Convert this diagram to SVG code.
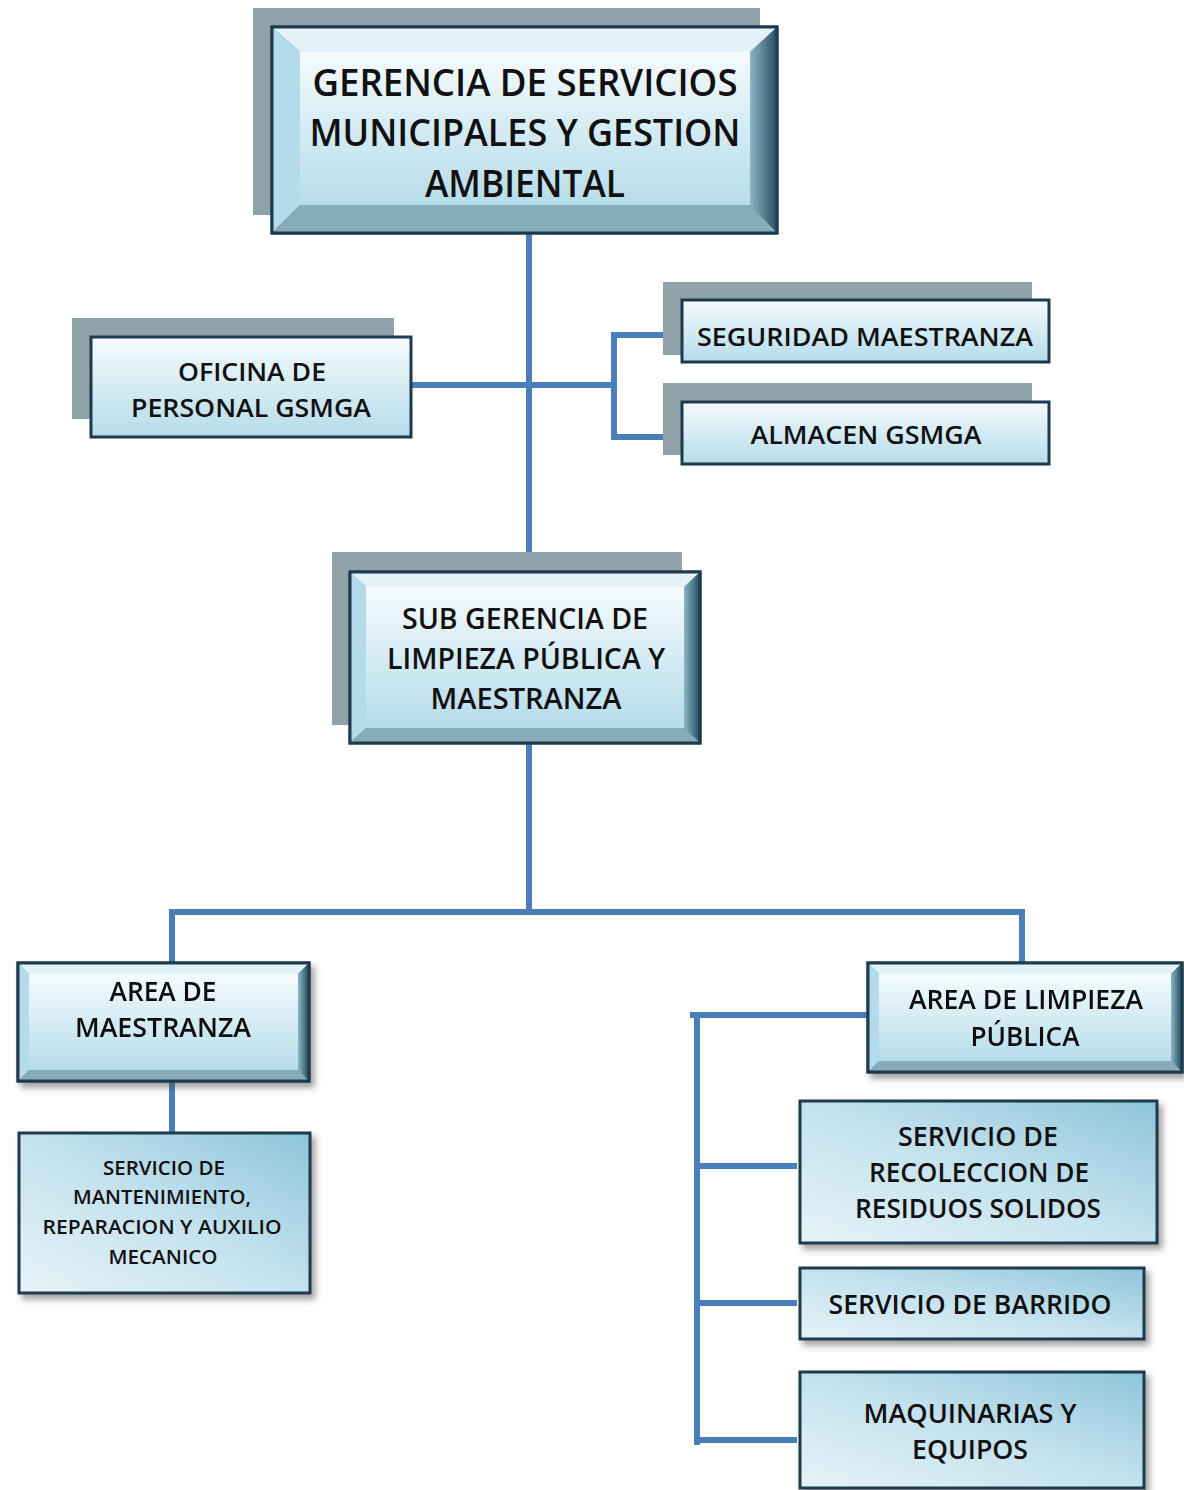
<svg xmlns="http://www.w3.org/2000/svg" width="1184" height="1490" viewBox="0 0 1184 1490">
<style>
.t{font-family:"Open Sans","Liberation Sans",sans-serif;font-weight:600;fill:#111;text-anchor:middle}
.sh{fill:#8fa2aa}
.box{fill:url(#gInner);stroke:#1e3a4e;stroke-width:3}
.svc{fill:url(#gSvc);stroke:#1e3a4e;stroke-width:3}
.frame{fill:#6f97a6;stroke:#1e3a4e;stroke-width:3}
.bt{fill:#e2f2f8}
.bl{fill:#b3dbe9}
.br{fill:url(#gRight)}
.bb{fill:#86abb9}
.in{fill:url(#gInner)}
.c{fill:none;stroke:#4a7ebb;stroke-width:6}
</style>
<defs>
<linearGradient id="gInner" x1="0" y1="0" x2="0" y2="1">
<stop offset="0" stop-color="#f4fbfd"/>
<stop offset="1" stop-color="#b6dcea"/>
</linearGradient>
<linearGradient id="gSvc" x1="0" y1="1" x2="1" y2="0">
<stop offset="0" stop-color="#e6f3f8"/>
<stop offset="0.5" stop-color="#c4e2ee"/>
<stop offset="1" stop-color="#8ec5d9"/>
</linearGradient>
<linearGradient id="gRight" x1="0" y1="0" x2="1" y2="0">
<stop offset="0" stop-color="#8db7c6"/>
<stop offset="1" stop-color="#2a5263"/>
</linearGradient>
<filter id="ds" x="-10%" y="-10%" width="125%" height="130%">
<feDropShadow dx="4" dy="5" stdDeviation="3" flood-color="#444" flood-opacity="0.5"/>
</filter>
</defs>

<g id="connectors">
<path class="c" d="M529 233 V572"/>
<path class="c" d="M411 385 H614"/>
<path class="c" d="M680 335 H614 V437 H680"/>
<path class="c" d="M529 743 V912"/>
<path class="c" d="M172 963 V912 H1022 V963"/>
<path class="c" d="M172 1081 V1133"/>
<path class="c" d="M868 1015 H690"/>
<path class="c" d="M697 1012 V1445"/>
<path class="c" d="M697 1166 H797"/>
<path class="c" d="M697 1303 H797"/>
<path class="c" d="M697 1440 H797"/>
</g>

<g id="gerencia">
<rect class="sh" x="253" y="8" width="507" height="207"/>
<rect class="frame" x="272" y="27" width="505" height="206"/>
<polygon class="bt" points="273,28 776,28 750,52 300,52"/>
<polygon class="bl" points="273,28 300,52 300,205 273,232"/>
<polygon class="br" points="776,28 776,232 750,205 750,52"/>
<polygon class="bb" points="273,232 300,205 750,205 776,232"/>
<rect class="in" x="300" y="52" width="450" height="153"/>
<rect x="272" y="27" width="505" height="206" fill="none" stroke="#1e3a4e" stroke-width="3"/>
<text class="t" x="525" y="96" font-size="37" textLength="425" lengthAdjust="spacingAndGlyphs">GERENCIA DE SERVICIOS</text>
<text class="t" x="525" y="146" font-size="37" textLength="431" lengthAdjust="spacingAndGlyphs">MUNICIPALES Y GESTION</text>
<text class="t" x="525" y="197" font-size="37" textLength="200" lengthAdjust="spacingAndGlyphs">AMBIENTAL</text>
</g>

<g id="oficina">
<rect class="sh" x="72" y="318" width="322" height="101"/>
<rect class="box" x="91" y="337" width="320" height="100"/>
<text class="t" x="252" y="381" font-size="26" textLength="148" lengthAdjust="spacingAndGlyphs">OFICINA DE</text>
<text class="t" x="251" y="417" font-size="26" textLength="240" lengthAdjust="spacingAndGlyphs">PERSONAL GSMGA</text>
</g>

<g id="seguridad">
<rect class="sh" x="663" y="282" width="369" height="73"/>
<rect class="box" x="682" y="300" width="367" height="62"/>
<text class="t" x="865" y="346" font-size="26" textLength="336" lengthAdjust="spacingAndGlyphs">SEGURIDAD MAESTRANZA</text>
</g>

<g id="almacen">
<rect class="sh" x="663" y="383" width="369" height="72"/>
<rect class="box" x="682" y="402" width="367" height="62"/>
<text class="t" x="866" y="444" font-size="26" textLength="231" lengthAdjust="spacingAndGlyphs">ALMACEN GSMGA</text>
</g>

<g id="subgerencia">
<rect class="sh" x="332" y="552" width="350" height="173"/>
<rect class="frame" x="350" y="572" width="350" height="171"/>
<polygon class="bt" points="351,573 699,573 684,587 366,587"/>
<polygon class="bl" points="351,573 366,587 366,728 351,742"/>
<polygon class="br" points="699,573 699,742 684,728 684,587"/>
<polygon class="bb" points="351,742 366,728 684,728 699,742"/>
<rect class="in" x="366" y="587" width="318" height="141"/>
<rect x="350" y="572" width="350" height="171" fill="none" stroke="#1e3a4e" stroke-width="3"/>
<text class="t" x="525" y="629" font-size="28" textLength="246" lengthAdjust="spacingAndGlyphs">SUB GERENCIA DE</text>
<text class="t" x="526" y="669" font-size="28" textLength="278" lengthAdjust="spacingAndGlyphs">LIMPIEZA PÚBLICA Y</text>
<text class="t" x="526" y="709" font-size="28" textLength="191" lengthAdjust="spacingAndGlyphs">MAESTRANZA</text>
</g>

<g id="area-maestranza" filter="url(#ds)">
<rect class="frame" x="18" y="963" width="291" height="118"/>
<polygon class="bt" points="19,964 308,964 298,974 29,974"/>
<polygon class="bl" points="19,964 29,974 29,1070 19,1080"/>
<polygon class="br" points="308,964 308,1080 298,1070 298,974"/>
<polygon class="bb" points="19,1080 29,1070 298,1070 308,1080"/>
<rect class="in" x="29" y="974" width="269" height="96"/>
<rect x="18" y="963" width="291" height="118" fill="none" stroke="#1e3a4e" stroke-width="3"/>
<text class="t" x="163" y="1001" font-size="27" textLength="107" lengthAdjust="spacingAndGlyphs">AREA DE</text>
<text class="t" x="163" y="1037" font-size="27" textLength="176" lengthAdjust="spacingAndGlyphs">MAESTRANZA</text>
</g>

<g id="servicio-mantenimiento">
<rect class="svc" x="19" y="1133" width="291" height="160" filter="url(#ds)"/>
<text class="t" x="164" y="1175" font-size="19" textLength="122" lengthAdjust="spacingAndGlyphs">SERVICIO DE</text>
<text class="t" x="162" y="1204" font-size="19" textLength="178" lengthAdjust="spacingAndGlyphs">MANTENIMIENTO,</text>
<text class="t" x="162" y="1234" font-size="19" textLength="239" lengthAdjust="spacingAndGlyphs">REPARACION Y AUXILIO</text>
<text class="t" x="163" y="1264" font-size="19" textLength="109" lengthAdjust="spacingAndGlyphs">MECANICO</text>
</g>

<g id="area-limpieza" filter="url(#ds)">
<rect class="frame" x="868" y="963" width="314" height="109"/>
<polygon class="bt" points="869,964 1181,964 1171,974 879,974"/>
<polygon class="bl" points="869,964 879,974 879,1061 869,1071"/>
<polygon class="br" points="1181,964 1181,1071 1171,1061 1171,974"/>
<polygon class="bb" points="869,1071 879,1061 1171,1061 1181,1071"/>
<rect class="in" x="879" y="974" width="292" height="87"/>
<rect x="868" y="963" width="314" height="109" fill="none" stroke="#1e3a4e" stroke-width="3"/>
<text class="t" x="1026" y="1009" font-size="27" textLength="234" lengthAdjust="spacingAndGlyphs">AREA DE LIMPIEZA</text>
<text class="t" x="1025" y="1046" font-size="27" textLength="109" lengthAdjust="spacingAndGlyphs">PÚBLICA</text>
</g>

<g id="recoleccion">
<rect class="svc" x="800" y="1101" width="357" height="142" filter="url(#ds)"/>
<text class="t" x="978" y="1146" font-size="27" textLength="160" lengthAdjust="spacingAndGlyphs">SERVICIO DE</text>
<text class="t" x="979" y="1182" font-size="27" textLength="220" lengthAdjust="spacingAndGlyphs">RECOLECCION DE</text>
<text class="t" x="978" y="1218" font-size="27" textLength="246" lengthAdjust="spacingAndGlyphs">RESIDUOS SOLIDOS</text>
</g>

<g id="barrido">
<rect class="svc" x="800" y="1268" width="344" height="71" filter="url(#ds)"/>
<text class="t" x="970" y="1314" font-size="27" textLength="283" lengthAdjust="spacingAndGlyphs">SERVICIO DE BARRIDO</text>
</g>

<g id="maquinarias">
<rect class="svc" x="800" y="1372" width="344" height="116" filter="url(#ds)"/>
<text class="t" x="970" y="1423" font-size="27" textLength="213" lengthAdjust="spacingAndGlyphs">MAQUINARIAS Y</text>
<text class="t" x="970" y="1459" font-size="27" textLength="116" lengthAdjust="spacingAndGlyphs">EQUIPOS</text>
</g>
</svg>
